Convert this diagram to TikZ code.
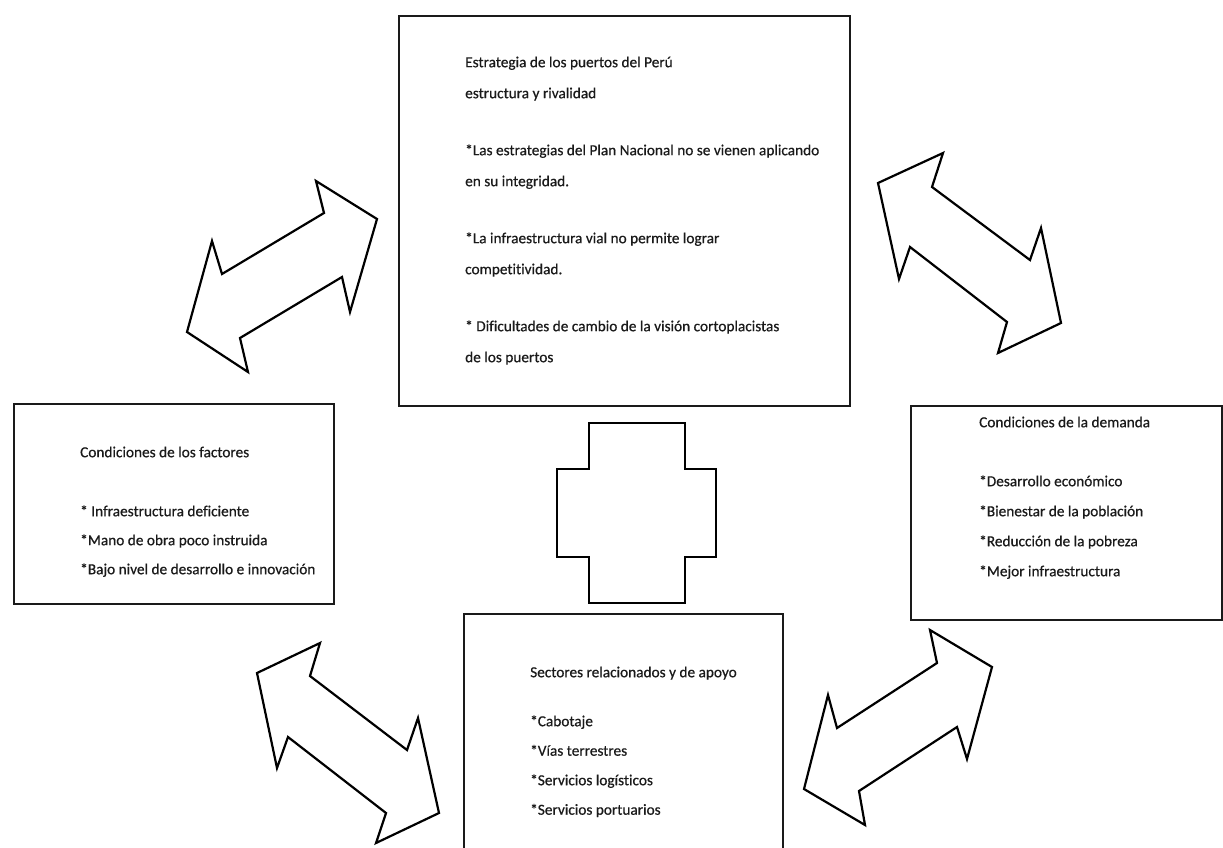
\documentclass[tikz,border=0pt]{standalone}
\usepackage{fontspec}
\setmainfont{Carlito}[Ligatures=NoCommon,FakeBold=0.5]
\definecolor{ink}{HTML}{1A1A1A}
\begin{document}
\begin{tikzpicture}[x=1pt,y=-1pt,
  box/.style={draw=ink, line width=2pt, fill=white, inner sep=0pt, anchor=north west},
  blockarrow/.style={draw=black, line width=2.2pt, line join=miter, fill=white},
  txt/.style={anchor=north west, align=left, inner sep=0pt, text=ink}]
\useasboundingbox[fill=white] (0,0) rectangle (1223,847);

% boxes
\node[box, minimum width=451pt, minimum height=390pt] (topbox) at (398,15) {};
\node[box, minimum width=320pt, minimum height=200pt] (leftbox) at (13,403) {};
\node[box, minimum width=311pt, minimum height=214pt] (rightbox) at (910,405) {};
\node[box, minimum width=319pt, minimum height=257pt] (botbox) at (463,613) {};

% texts
\node[txt, font=\fontsize{15.3}{31}\selectfont] (toptext) at (465,55) {\rule{0pt}{12pt}Estrategia de los puertos del Perú\\
estructura y rivalidad\\[26pt]
*Las estrategias del Plan Nacional no se vienen aplicando\\
en su integridad.\\[26pt]
*La infraestructura vial no permite lograr\\
competitividad.\\[26pt]
* Dificultades de cambio de la visión cortoplacistas\\
de los puertos};

\node[txt, font=\fontsize{15.3}{29}\selectfont] (lefttext) at (80,445) {\rule{0pt}{12pt}Condiciones de los factores\\[30pt]
* Infraestructura deficiente\\
*Mano de obra poco instruida\\
*Bajo nivel de desarrollo e innovación};

\node[txt, font=\fontsize{15.3}{30}\selectfont] (righttext) at (979,415) {\rule{0pt}{12pt}Condiciones de la demanda\\[29pt]
*Desarrollo económico\\
*Bienestar de la población\\
*Reducción de la pobreza\\
*Mejor infraestructura};

\node[txt, font=\fontsize{15.3}{29.5}\selectfont] (bottext) at (530,665) {\rule{0pt}{12pt}Sectores relacionados y de apoyo\\[19.5pt]
*Cabotaje\\
*Vías terrestres\\
*Servicios logísticos\\
*Servicios portuarios};

% central cross
\draw[blockarrow] (589,423) -- (685,423) -- (685,469) -- (716,469) -- (716,557)
  -- (685,557) -- (685,603) -- (589,603) -- (589,557) -- (557,557) -- (557,469)
  -- (589,469) -- cycle;

% upper-left double arrow
\draw[blockarrow] (187,332) -- (212,241) -- (222,274) -- (324,213) -- (316,181)
  -- (377,219) -- (350,312) -- (342,277) -- (240,338) -- (248,372) -- cycle;

% upper-right double arrow
\draw[blockarrow] (878,183) -- (943,153) -- (932,187) -- (1030,260) -- (1041,228)
  -- (1061,323) -- (998,353) -- (1007,322) -- (910,247) -- (899,279) -- cycle;

% lower-left double arrow
\draw[blockarrow] (257,673) -- (320,643) -- (310,676) -- (407,750) -- (418,718)
  -- (439,813) -- (376,843) -- (386,813) -- (288,737) -- (277,768) -- cycle;

% lower-right double arrow
\draw[blockarrow] (804,789) -- (828,695) -- (837,728) -- (937,663) -- (930,630)
  -- (992,667) -- (967,759) -- (957,727) -- (859,791) -- (865,825) -- cycle;
\end{tikzpicture}
\end{document}
